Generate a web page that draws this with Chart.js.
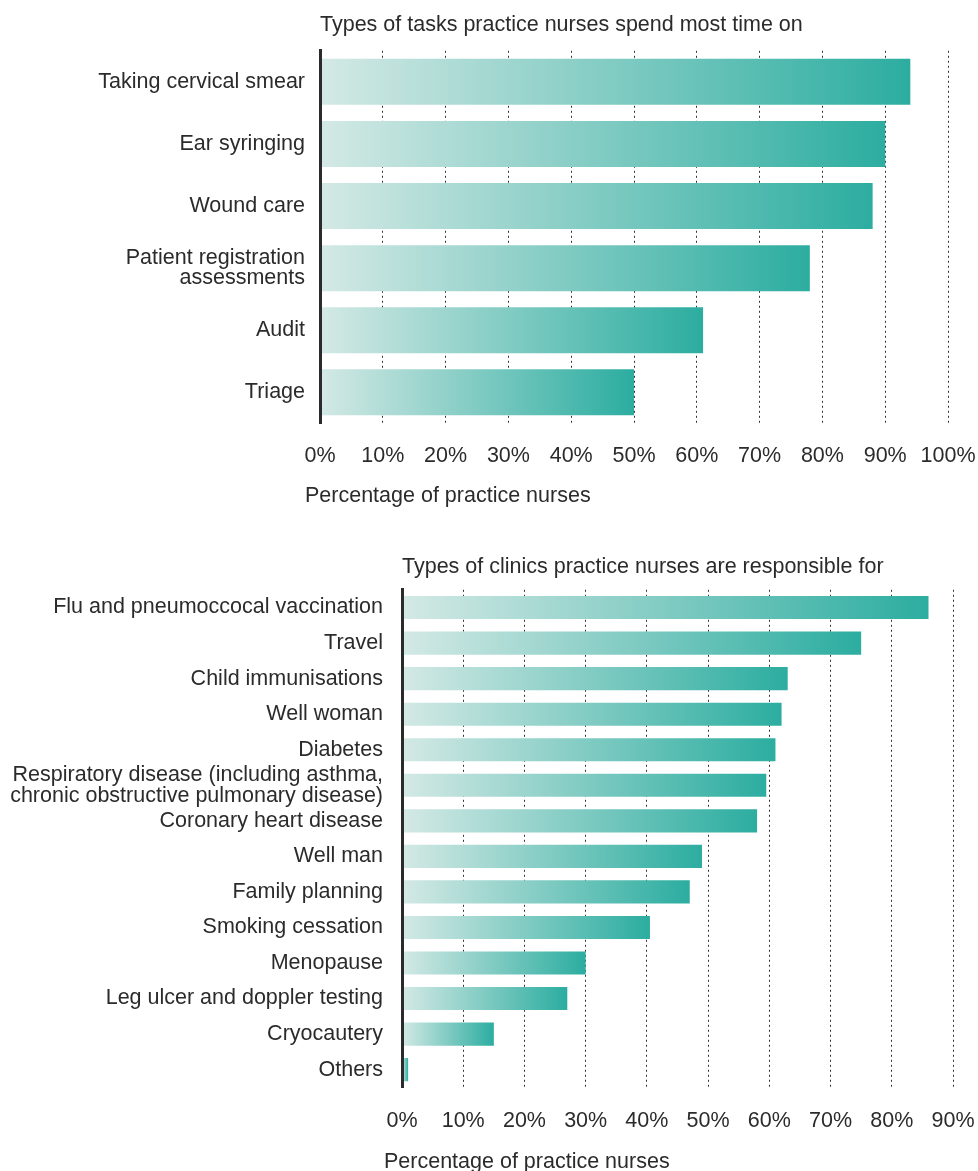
<!DOCTYPE html>
<html>
<head>
<meta charset="utf-8">
<title>Practice nurses</title>
<script src="https://cdn.jsdelivr.net/npm/chart.js@4/dist/chart.umd.min.js"></script>
<style>
  body { margin: 0; background: #fff; }
  .chart-box { position: absolute; left: 0; width: 978px; }
  #tasksBox { top: 0; height: 520px; }
  #clinicsBox { top: 540px; height: 631px; }
</style>
</head>
<body>
<div class="chart-box" id="tasksBox"><canvas id="tasksChart"></canvas></div>
<div class="chart-box" id="clinicsBox"><canvas id="clinicsChart"></canvas></div>

<script>
// Tasks chart data
const taskLabels = [
  'Taking cervical smear',
  'Ear syringing',
  'Wound care',
  ['Patient registration', 'assessments'],
  'Audit',
  'Triage'
];
const taskValues = [94, 90, 88, 78, 61, 50];

// Clinics chart data
const clinicLabels = [
  'Flu and pneumoccocal vaccination',
  'Travel',
  'Child immunisations',
  'Well woman',
  'Diabetes',
  ['Respiratory disease (including asthma,', 'chronic obstructive pulmonary disease)'],
  'Coronary heart disease',
  'Well man',
  'Family planning',
  'Smoking cessation',
  'Menopause',
  'Leg ulcer and doppler testing',
  'Cryocautery',
  'Others'
];
const clinicValues = [86, 75, 63, 62, 61, 59.5, 58, 49, 47, 40.5, 30, 27, 15, 1];

const AXIS_CAPTION = 'Percentage of practice nurses';

const TEXT_COLOR = '#2b2b2b';
const BAR_LIGHT = '#d4e9e5';
const BAR_DARK = '#2cada0';
const FONT_SIZE = 21.5;
const FONT_FAMILY = "'Liberation Sans', Arial, sans-serif";

Chart.defaults.font.family = FONT_FAMILY;
Chart.defaults.font.size = FONT_SIZE;
Chart.defaults.color = TEXT_COLOR;

// each bar fades from pale at zero to teal at its own end
function barGradient(context) {
  const chart = context.chart;
  if (!chart.chartArea || !chart.scales.x) {
    return BAR_DARK;
  }
  const xScale = chart.scales.x;
  const start = xScale.getPixelForValue(0);
  let end = xScale.getPixelForValue(context.raw);
  if (end - start < 1) end = start + 1;
  const g = chart.ctx.createLinearGradient(start, 0, end, 0);
  g.addColorStop(0, BAR_LIGHT);
  g.addColorStop(1, BAR_DARK);
  return g;
}

// x axis caption sits a little left of the plot, under the "0%" label
const captionPlugin = {
  id: 'axisCaption',
  afterDraw(chart, args, pluginOpts) {
    const xScale = chart.scales.x;
    const ctx = chart.ctx;
    ctx.save();
    ctx.font = FONT_SIZE + 'px ' + FONT_FAMILY;
    ctx.fillStyle = TEXT_COLOR;
    ctx.textAlign = 'left';
    ctx.textBaseline = 'middle';
    ctx.fillText(AXIS_CAPTION, chart.chartArea.left - pluginOpts.shift, xScale.bottom - FONT_SIZE * 0.6);
    ctx.restore();
  }
};

function makeChart(canvasId, opts) {
  return new Chart(document.getElementById(canvasId), {
    type: 'bar',
    data: {
      labels: opts.labels,
      datasets: [{
        data: opts.values,
        backgroundColor: barGradient,
        borderWidth: 0,
        categoryPercentage: 1,
        barPercentage: opts.barPercentage
      }]
    },
    plugins: [captionPlugin],
    options: {
      indexAxis: 'y',
      responsive: true,
      maintainAspectRatio: false,
      animation: false,
      layout: {
        padding: { top: 0, right: opts.rightPad, bottom: opts.bottomPad, left: 0 }
      },
      plugins: {
        legend: { display: false },
        tooltip: { enabled: false },
        axisCaption: { shift: opts.captionShift },
        title: {
          display: true,
          text: opts.title,
          align: 'start',
          fullSize: false,
          color: TEXT_COLOR,
          font: { size: FONT_SIZE, weight: 'normal' },
          padding: opts.titlePad
        }
      },
      scales: {
        x: {
          min: 0,
          max: opts.max,
          ticks: {
            stepSize: 10,
            padding: 0,
            color: TEXT_COLOR,
            maxRotation: 0,
            minRotation: 0,
            autoSkip: false,
            callback: (v) => v + '%'
          },
          // invisible tick marks push the labels down without widening the right margin
          grid: {
            color: '#333',
            lineWidth: 1,
            drawTicks: true,
            tickLength: opts.tickGap,
            tickColor: 'rgba(0,0,0,0)'
          },
          border: { display: false, dash: [2, 3] },
          // keeps the room for the caption; the text itself comes from the plugin
          title: {
            display: true,
            text: AXIS_CAPTION,
            color: 'rgba(0,0,0,0)',
            font: { size: FONT_SIZE },
            padding: { top: opts.axisTitleTop, bottom: 0 }
          }
        },
        y: {
          grid: { display: false, drawTicks: false },
          border: { display: true, width: 3, color: '#2b2b2b', z: 1 },
          ticks: {
            autoSkip: false,
            padding: opts.labelPad,
            color: TEXT_COLOR,
            font: { size: FONT_SIZE, lineHeight: 0.96 }
          },
          afterFit: (scale) => { scale.width = opts.axisLeft; }
        }
      }
    }
  });
}

makeChart('tasksChart', {
  labels: taskLabels,
  values: taskValues,
  title: 'Types of tasks practice nurses spend most time on',
  max: 100,
  barPercentage: 0.74,
  axisLeft: 320,
  labelPad: 15,
  rightPad: 30,
  bottomPad: 11,
  titlePad: { top: 12, bottom: 13 },
  tickGap: 20,
  axisTitleTop: 14,
  captionShift: 15
});

makeChart('clinicsChart', {
  labels: clinicLabels,
  values: clinicValues,
  title: 'Types of clinics practice nurses are responsible for',
  max: 90,
  barPercentage: 0.65,
  axisLeft: 402,
  labelPad: 19,
  rightPad: 25,
  bottomPad: -4,
  titlePad: { top: 14, bottom: 10 },
  tickGap: 21,
  axisTitleTop: 15,
  captionShift: 18
});
</script>
</body>
</html>
